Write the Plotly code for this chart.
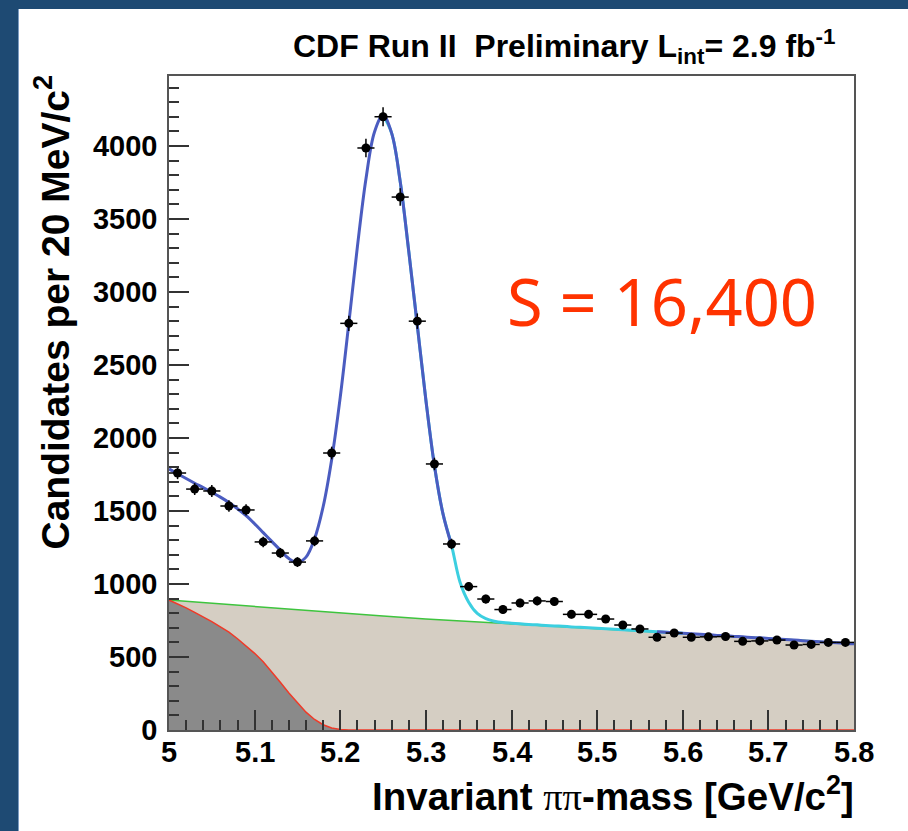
import plotly.graph_objects as go
import numpy as np

# ---------------- data ----------------
bin_centers = [5.01, 5.03, 5.05, 5.07, 5.09, 5.11, 5.13, 5.15, 5.17, 5.19,
               5.21, 5.23, 5.25, 5.27, 5.29, 5.31, 5.33, 5.35, 5.37, 5.39,
               5.41, 5.43, 5.45, 5.47, 5.49, 5.51, 5.53, 5.55, 5.57, 5.59,
               5.61, 5.63, 5.65, 5.67, 5.69, 5.71, 5.73, 5.75, 5.77, 5.79]
candidates = [1760, 1650, 1637, 1534, 1507, 1288, 1212, 1150, 1295, 1897,
              2785, 3986, 4200, 3650, 2800, 1822, 1274, 982, 897, 825,
              870, 884, 880, 792, 792, 760, 719, 692, 635, 664,
              635, 638, 640, 607, 610, 616, 582, 586, 600, 600]

fit_mass = [5.00, 5.01, 5.02, 5.03, 5.04, 5.05, 5.06, 5.07, 5.08, 5.09,
            5.10, 5.11, 5.12, 5.13, 5.14, 5.15, 5.16, 5.17, 5.18, 5.19,
            5.20, 5.21, 5.22, 5.23, 5.24, 5.25, 5.26, 5.27, 5.28, 5.29,
            5.30, 5.31, 5.32, 5.33, 5.34, 5.35, 5.36, 5.37, 5.38, 5.39,
            5.40, 5.41, 5.42, 5.43, 5.44, 5.45, 5.46, 5.47, 5.48, 5.49,
            5.50, 5.51, 5.52, 5.53, 5.54, 5.55, 5.56, 5.57, 5.58, 5.59,
            5.60, 5.61, 5.62, 5.63, 5.64, 5.65, 5.66, 5.67, 5.68, 5.69,
            5.70, 5.71, 5.72, 5.73, 5.74, 5.75, 5.76, 5.77, 5.78, 5.79, 5.80]
fit_total = [1788, 1755, 1722, 1690, 1660, 1628, 1595, 1558, 1515, 1468,
             1412, 1352, 1292, 1232, 1174, 1147, 1184, 1310, 1529, 1853,
             2280, 2785, 3309, 3774, 4096, 4210, 4088, 3757, 3279, 2770,
             2260, 1810, 1480, 1265, 1010, 875, 798, 762, 745, 736,
             731, 727, 723, 720, 716, 713, 710, 706, 703, 700,
             697, 694, 690, 687, 683, 680, 676, 673, 669, 666,
             662, 659, 655, 652, 648, 645, 641, 638, 634, 631,
             627, 623, 620, 616, 612, 608, 605, 601, 597, 593, 590]

partreco_mass = [5.00, 5.01, 5.02, 5.03, 5.04, 5.05, 5.06, 5.07, 5.08, 5.09,
                 5.10, 5.11, 5.12, 5.13, 5.14, 5.15, 5.16, 5.17, 5.18, 5.19,
                 5.20, 5.21, 5.22, 5.80]
partreco_bkg = [890, 864, 836, 806, 775, 742, 707, 670, 625, 577,
                525, 467, 400, 327, 254, 185, 122, 72, 36, 14,
                4, 0, 0, 0]

comb_mass = [5.00, 5.05, 5.10, 5.15, 5.20, 5.25, 5.30, 5.35, 5.40,
             5.45, 5.50, 5.55, 5.60, 5.65, 5.70, 5.75, 5.80]
comb_bkg = [890, 867, 844, 822, 800, 780, 760, 743, 728,
            711, 694, 677, 660, 644, 628, 612, 588]

x_ticks = [5.0, 5.1, 5.2, 5.3, 5.4, 5.5, 5.6, 5.7, 5.8]
x_tick_labels = ["5", "5.1", "5.2", "5.3", "5.4", "5.5", "5.6", "5.7", "5.8"]
y_ticks = [0, 500, 1000, 1500, 2000, 2500, 3000, 3500, 4000]

# ---------------- figure geometry ----------------
W, H = 908, 831
ML, MR, MT, MB = 169, 54, 76, 101
PW, PH = W - ML - MR, H - MT - MB


def px_x(p):
    return (p - ML) / PW


def px_y(p):
    return (H - MB - p) / PH


fig = go.Figure()

# combinatorial background (tan) with green outline
fig.add_trace(go.Scatter(x=comb_mass, y=comb_bkg, mode="lines", fill="tozeroy",
                         fillcolor="#d5cec3", line=dict(color="#3ec43e", width=1.5),
                         hoverinfo="skip", showlegend=False))
# partially reconstructed background (dark gray) with red outline
fig.add_trace(go.Scatter(x=partreco_mass, y=partreco_bkg, mode="lines", fill="tozeroy",
                         fillcolor="#8a8a8a", line=dict(color="#f03a28", width=1.5),
                         hoverinfo="skip", showlegend=False))

fm = np.array(fit_mass)
ft = np.array(fit_total, dtype=float)

cyan_mask = (fm >= 5.25) & (fm <= 5.60)
fig.add_trace(go.Scatter(x=fm[cyan_mask], y=ft[cyan_mask], mode="lines",
                         line=dict(color="#3ccfe0", width=3, shape="spline"),
                         hoverinfo="skip", showlegend=False))

blue_y = np.where((fm <= 5.335) | (fm >= 5.565), ft, np.nan)
fig.add_trace(go.Scatter(x=fm, y=blue_y, mode="lines", connectgaps=False,
                         line=dict(color="#4b5cc0", width=3, shape="spline"),
                         hoverinfo="skip", showlegend=False))

cand = np.array(candidates, dtype=float)
fig.add_trace(go.Scatter(x=bin_centers, y=candidates, mode="markers",
                         marker=dict(color="black", size=9),
                         error_y=dict(type="data", array=np.sqrt(cand), color="black",
                                      thickness=1.5, width=0),
                         error_x=dict(type="constant", value=0.01, color="black",
                                      thickness=1.5, width=0),
                         hoverinfo="skip", showlegend=False))

tickfont = dict(family="Liberation Sans", size=29, color="black", weight="bold")

fig.update_xaxes(range=[5.0, 5.8], tickvals=x_ticks, showticklabels=False,
                 ticks="inside", ticklen=20, tickwidth=1.5, tickcolor="#333333",
                 minor=dict(dtick=0.02, ticks="inside", ticklen=10, tickwidth=1.5,
                            tickcolor="#333333"),
                 showline=True, linecolor="#555555", linewidth=1.5, mirror=True,
                 showgrid=False, zeroline=False)
fig.update_yaxes(range=[0, 4479], tickvals=y_ticks,
                 ticks="inside", ticklen=20, tickwidth=1.5, tickcolor="#333333",
                 minor=dict(dtick=100, ticks="inside", ticklen=10, tickwidth=1.5,
                            tickcolor="#333333"),
                 showline=True, linecolor="#555555", linewidth=1.5, mirror=True,
                 showgrid=False, zeroline=False, tickfont=tickfont,
                 ticklabelstandoff=4)

border = "#1e4a73"
shapes = [
    dict(type="rect", xref="paper", yref="paper", x0=px_x(0), x1=px_x(18),
         y0=px_y(H), y1=px_y(0), fillcolor=border, line=dict(width=0), layer="above"),
    dict(type="rect", xref="paper", yref="paper", x0=px_x(0), x1=px_x(W),
         y0=px_y(9), y1=px_y(0), fillcolor=border, line=dict(width=0), layer="above"),
    dict(type="line", xref="paper", yref="paper", x0=px_x(18.5), x1=px_x(18.5),
         y0=px_y(H), y1=px_y(9), line=dict(color="#7d9cc2", width=1), layer="above"),
]

annotations = [
    dict(text="CDF Run II&nbsp;&nbsp;Preliminary L<sub>int</sub>= 2.9 fb<sup>-1</sup>",
         xref="paper", yref="paper", x=px_x(838), y=px_y(46), xanchor="right",
         yanchor="middle", showarrow=False,
         font=dict(family="Liberation Sans", size=32, color="black", weight="bold")),
    dict(text="Candidates per 20 MeV/c<sup>2</sup>", textangle=-90,
         xref="paper", yref="paper", x=px_x(52), y=px_y(73), xanchor="center",
         yanchor="top", showarrow=False,
         font=dict(family="Liberation Sans", size=39, color="black", weight="bold")),
    dict(text="Invariant <span style=\"font-family:'Liberation Serif';font-weight:normal\">ππ</span>-mass [GeV/c<sup>2</sup>]",
         xref="paper", yref="paper", x=px_x(856), y=px_y(794), xanchor="right",
         yanchor="middle", showarrow=False,
         font=dict(family="Liberation Sans", size=38.5, color="black", weight="bold")),
    dict(text="S = 16,400", xref="paper", yref="paper", x=px_x(505), y=px_y(301),
         xanchor="left", yanchor="middle", showarrow=False,
         font=dict(family="Noto Sans", size=65, color="#ff3300")),
]

# x tick labels placed close under the axis, ROOT style
for xv, lab in zip(x_ticks, x_tick_labels):
    annotations.append(dict(text=lab, xref="x", yref="paper", x=xv, y=px_y(752),
                            xanchor="center", yanchor="middle", showarrow=False,
                            font=tickfont))

fig.update_layout(width=W, height=H, margin=dict(l=ML, r=MR, t=MT, b=MB, pad=0),
                  paper_bgcolor="white", plot_bgcolor="white",
                  shapes=shapes, annotations=annotations, showlegend=False)

fig.write_html("out.html")
